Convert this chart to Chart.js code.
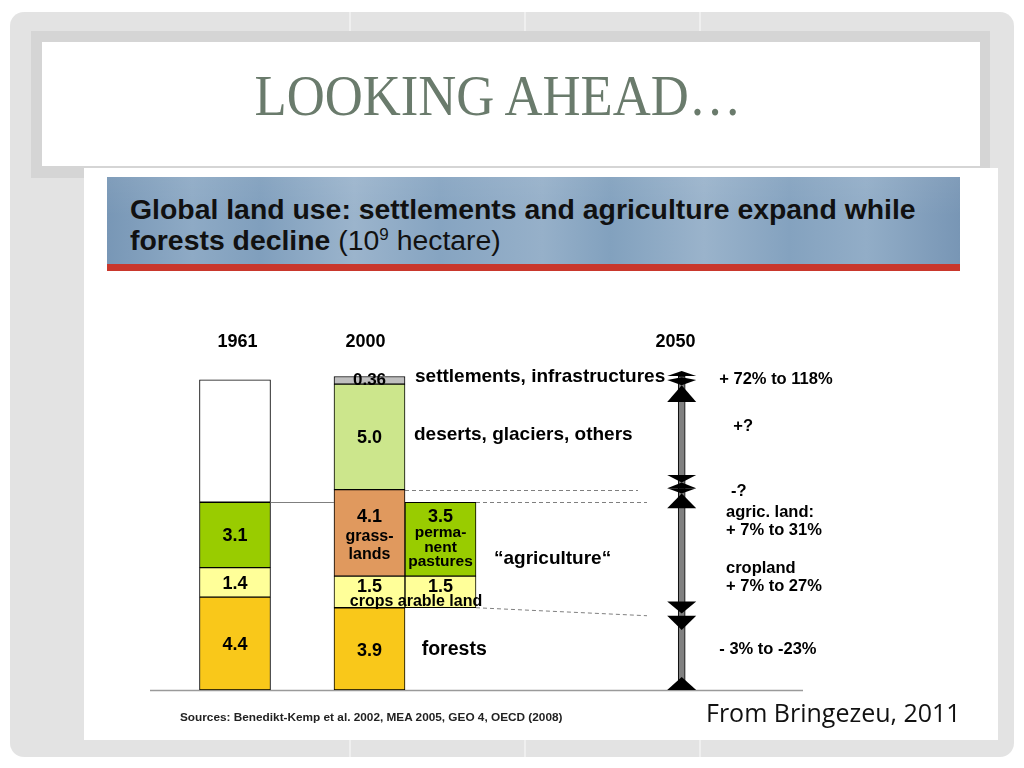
<!DOCTYPE html>
<html>
<head>
<meta charset="utf-8">
<title>Looking ahead</title>
<script src="https://cdn.jsdelivr.net/npm/chart.js@4.4.1/dist/chart.umd.min.js"></script>
<style>
  body { margin: 0; width: 1024px; height: 768px; overflow: hidden; background: #fff; position: relative; }
  .abs { position: absolute; }
  #slide { left: 10px; top: 12px; width: 1004px; height: 745px; border-radius: 14px;
    background: linear-gradient(to right, #e3e3e3 0, #e3e3e3 339px, #efefef 339px, #efefef 341px, #e3e3e3 341px,
      #e3e3e3 514px, #efefef 514px, #efefef 516px, #e3e3e3 516px, #e3e3e3 689px, #efefef 689px, #efefef 691px, #e3e3e3 691px); }
  #frame { left: 31px; top: 31px; width: 959px; height: 147px; background: #d5d5d5; }
  #titlebox { left: 42px; top: 42px; width: 938px; height: 124px; background: #fff; }
  #title { left: 42px; top: 68px; width: 912px; text-align: center; font-family: "Liberation Serif", serif;
    font-size: 56px; line-height: 56px; color: #6a7b6c; transform: scaleX(0.94); white-space: nowrap; }
  #picture { left: 84px; top: 168px; width: 914px; height: 572px; background: #fff; }
  #header { left: 107px; top: 177px; width: 853px; height: 87px;
    background: linear-gradient(to bottom, rgba(255,255,255,0.06), rgba(255,255,255,0) 45%),
      linear-gradient(to right, #7897b6 0%, #8eaac5 10%, #809fbd 18%, #9bb4cc 29%, #86a4c1 39%, #96b0c9 51%,
        #82a1be 59%, #9ab3cb 70%, #84a2bf 80%, #92adc7 89%, #7896b5 100%); }
  #headtext { left: 130px; top: 194px; font-family: "Liberation Sans", Arial, sans-serif; font-size: 28.4px;
    line-height: 31px; color: #111; white-space: nowrap; }
  #headtext .sup { font-size: 17px; position: relative; top: -10px; }
  #redline { left: 107px; top: 264px; width: 853px; height: 7px; background: #c9372c; }
  #landuse { left: 84px; top: 271px; }
  #sources { left: 180px; top: 710px; font-family: "Liberation Sans Narrow", "Liberation Sans", sans-serif;
    font-weight: bold; font-size: 11.8px; color: #222; white-space: nowrap; }
  #credit { left: 706px; top: 695px; font-family: "Open Sans", "DejaVu Sans", sans-serif; font-size: 25px;
    color: #111; white-space: nowrap; }
</style>
</head>
<body>
<div id="slide" class="abs"></div>
<div id="frame" class="abs"></div>
<div id="titlebox" class="abs"></div>
<div id="title" class="abs">LOOKING AHEAD…</div>
<div id="picture" class="abs"></div>
<div id="header" class="abs"></div>
<div id="headtext" class="abs"><b>Global land use: settlements and agriculture expand while<br>forests decline</b> (10<span class="sup">9</span> hectare)</div>
<div id="redline" class="abs"></div>
<canvas id="landuse" class="abs" width="914" height="469"></canvas>
<div id="sources" class="abs">Sources: Benedikt-Kemp et al. 2002, MEA 2005, GEO 4, OECD (2008)</div>
<div id="credit" class="abs">From Bringezeu, 2011</div>

<script>
// land use in 10^9 ha, bottom to top, for 1961 and 2000
const categories  = ['1961', '2000', '2050'];
const forests     = [4.4, 3.9];
const cropland    = [1.4, 1.5];
const grassland   = [3.1, 4.1];
const otherLand   = [5.8, 5.0];   // 1961 value is not printed
const settlements = [0, 0.36];
// 2000 agricultural land shown again beside the 2000 bar
const arableLand  = 1.5;
const pastures    = 3.5;
// 2050: top of the grey axis and the arrow heads (base -> tip)
const axis2050Top = 14.88;
const arrowBase = [14.88, 14.69, 14.69, 13.65, 10.19, 9.56, 9.56, 8.61, 4.19, 3.52, 0];
const arrowTip  = [15.12, 14.83, 14.45, 14.45, 9.84, 9.84, 9.32, 9.32, 3.63, 2.84, 0.62];

// layout: column centres along the base line (slide pixels)
const colX = [235, 369.5, 440.5, 681.7];
const yearX = [237.5, 365.5, 675.5];
const FONT = '"Liberation Sans", Arial, sans-serif';

// text next to the chart: text, x (slide px), y (value), size, align
const notes = [
    ['settlements, infrastructures', 415, 14.83, 19],
    ['deserts, glaciers, others', 414, 12.09, 19],
    ['\u201Cagriculture\u201C', 494, 6.24, 19],
    ['forests', 421.7, 1.9, 19.5],
    ['crops arable land', 416, 4.18, 16, 'center'],
    ['+ 72% to 118%', 719.3, 14.73, 16.5],
    ['+?', 733.3, 12.51, 16.5],
    ['-?', 731, 9.4, 16.5],
    ['agric. land:', 726, 8.42, 16.5],
    ['+ 7% to 31%', 726, 7.55, 16.5],
    ['cropland', 726, 5.77, 16.5],
    ['+ 7% to 27%', 726, 4.9, 16.5],
    ['- 3% to -23%', 719.3, 1.94, 16.5]
];

// turn segment sizes into [bottom, top] pairs
function bounds(parts, start) {
    var lo = start || 0;
    return parts.map(function(v) {
        var r = [lo, lo + v];
        lo += v;
        return r;
    });
}
var s1961 = bounds([forests[0], cropland[0], grassland[0], otherLand[0]]);
var s2000 = bounds([forests[1], cropland[1], grassland[1], otherLand[1], settlements[1]]);
var sAgri = bounds([arableLand, pastures], forests[1]);

function seg(label, points, colors, texts, thickness) {
    return {
        label: label,
        data: points,
        backgroundColor: colors,
        borderColor: '#000',
        borderWidth: 1,
        borderSkipped: false,
        barThickness: thickness || 71,
        grouped: false,
        texts: texts
    };
}

var datasets = [
    seg('forests', [{x: colX[0], y: s1961[0]}, {x: colX[1], y: s2000[0]}], '#f9c81a',
        [[[forests[0], 18, 1]], [[forests[1], 18, 2.5]]]),
    seg('crops', [{x: colX[0], y: s1961[1]}, {x: colX[1], y: s2000[1]}, {x: colX[2], y: sAgri[0]}], '#ffff99',
        [[[cropland[0], 18, 1.5]], [[cropland[1], 18, -5]], [[arableLand, 18, -5]]]),
    seg('grassland', [{x: colX[0], y: s1961[2]}, {x: colX[1], y: s2000[2]}, {x: colX[2], y: sAgri[1]}],
        ['#99cc00', '#e0995e', '#99cc00'],
        [[[grassland[0], 18, 1.5]],
         [[grassland[1], 18, -16], ['grass-', 16, 3.5], ['lands', 16, 22]],
         [[pastures, 18, -22.5], ['perma-', 15.5, -6], ['nent', 15.5, 8.5], ['pastures', 15.5, 22.5]]]),
    seg('other', [{x: colX[0], y: s1961[3]}, {x: colX[1], y: s2000[3]}], ['#ffffff', '#cce68c'],
        [[], [[otherLand[1], 18, 1]]]),
    seg('settlements', [{x: colX[1], y: s2000[4]}], '#bfbfbf', [[[settlements[1], 17, 0]]]),
    seg('2050', [{x: colX[3], y: [0, axis2050Top]}], '#808080', [], 7)
];

function fmt(v) {
    return typeof v === 'number' ? (v < 1 ? String(v) : v.toFixed(1)) : v;
}

var decor = {
    id: 'decor',
    beforeDatasetsDraw: function(chart) {
        var ctx = chart.ctx, ys = chart.scales.y, area = chart.chartArea;
        var y0 = Math.round(ys.getPixelForValue(0)) + 0.5;
        ctx.save();
        ctx.strokeStyle = '#9a9a9a';
        ctx.lineWidth = 1.5;
        ctx.beginPath();
        ctx.moveTo(area.left, y0);
        ctx.lineTo(area.right, y0);
        ctx.stroke();
        ctx.restore();
    },
    afterDatasetsDraw: function(chart) {
        var ctx = chart.ctx, xs = chart.scales.x, ys = chart.scales.y;
        var half = 35.5;
        ctx.save();

        // connectors between the bars and the 2050 axis
        ctx.strokeStyle = '#7f7f7f';
        ctx.lineWidth = 1;
        ctx.beginPath();
        var agriTop = Math.round(ys.getPixelForValue(s1961[2][1])) + 0.5;
        ctx.moveTo(xs.getPixelForValue(colX[0]) + half, agriTop);
        ctx.lineTo(xs.getPixelForValue(colX[1]) - half, agriTop);
        ctx.stroke();
        ctx.setLineDash([4, 3]);
        ctx.beginPath();
        var g = Math.round(ys.getPixelForValue(s2000[2][1])) + 0.5;
        ctx.moveTo(xs.getPixelForValue(colX[1]) + half, g);
        ctx.lineTo(xs.getPixelForValue(638), g);
        var p = Math.round(ys.getPixelForValue(sAgri[1][1])) + 0.5;
        ctx.moveTo(xs.getPixelForValue(colX[2]) + half, p);
        ctx.lineTo(xs.getPixelForValue(647), p);
        ctx.moveTo(xs.getPixelForValue(colX[2]) + half, ys.getPixelForValue(sAgri[0][0]));
        ctx.lineTo(xs.getPixelForValue(647), ys.getPixelForValue(arrowBase[9]));
        ctx.stroke();
        ctx.setLineDash([]);

        // arrow heads on the 2050 axis
        ctx.fillStyle = '#000';
        var cx = xs.getPixelForValue(colX[3]);
        for (var i = 0; i < arrowBase.length; i++) {
            var b = ys.getPixelForValue(arrowBase[i]);
            var t = ys.getPixelForValue(arrowTip[i]);
            ctx.beginPath();
            ctx.moveTo(cx - 14.5, b);
            ctx.lineTo(cx + 14.5, b);
            ctx.lineTo(cx, t);
            ctx.closePath();
            ctx.fill();
        }

        // numbers inside the bars
        ctx.textAlign = 'center';
        ctx.textBaseline = 'middle';
        chart.data.datasets.forEach(function(ds, di) {
            var meta = chart.getDatasetMeta(di);
            meta.data.forEach(function(bar, j) {
                var lines = ds.texts[j] || [];
                var mid = (bar.y + bar.base) / 2;
                lines.forEach(function(l) {
                    ctx.font = 'bold ' + l[1] + 'px ' + FONT;
                    ctx.fillText(fmt(l[0]), bar.x, mid + l[2]);
                });
            });
        });

        // year labels
        ctx.font = 'bold 18px ' + FONT;
        categories.forEach(function(c, i) {
            ctx.fillText(c, xs.getPixelForValue(yearX[i]), ys.getPixelForValue(16.5));
        });

        // labels and projections
        notes.forEach(function(n) {
            ctx.font = 'bold ' + n[3] + 'px ' + FONT;
            ctx.textAlign = n[4] || 'left';
            ctx.fillText(n[0], xs.getPixelForValue(n[1]), ys.getPixelForValue(n[2]));
        });
        ctx.restore();
    }
};

new Chart(document.getElementById('landuse').getContext('2d'), {
    type: 'bar',
    data: { datasets: datasets },
    options: {
        responsive: false,
        animation: false,
        layout: { padding: { left: 66, right: 195, top: 92, bottom: 50 } },
        plugins: { legend: { display: false }, tooltip: { enabled: false } },
        scales: {
            x: { type: 'linear', min: 150, max: 803, offset: false, display: false },
            y: { min: 0, max: 15.5, display: false }
        }
    },
    plugins: [decor]
});
</script>
</body>
</html>
